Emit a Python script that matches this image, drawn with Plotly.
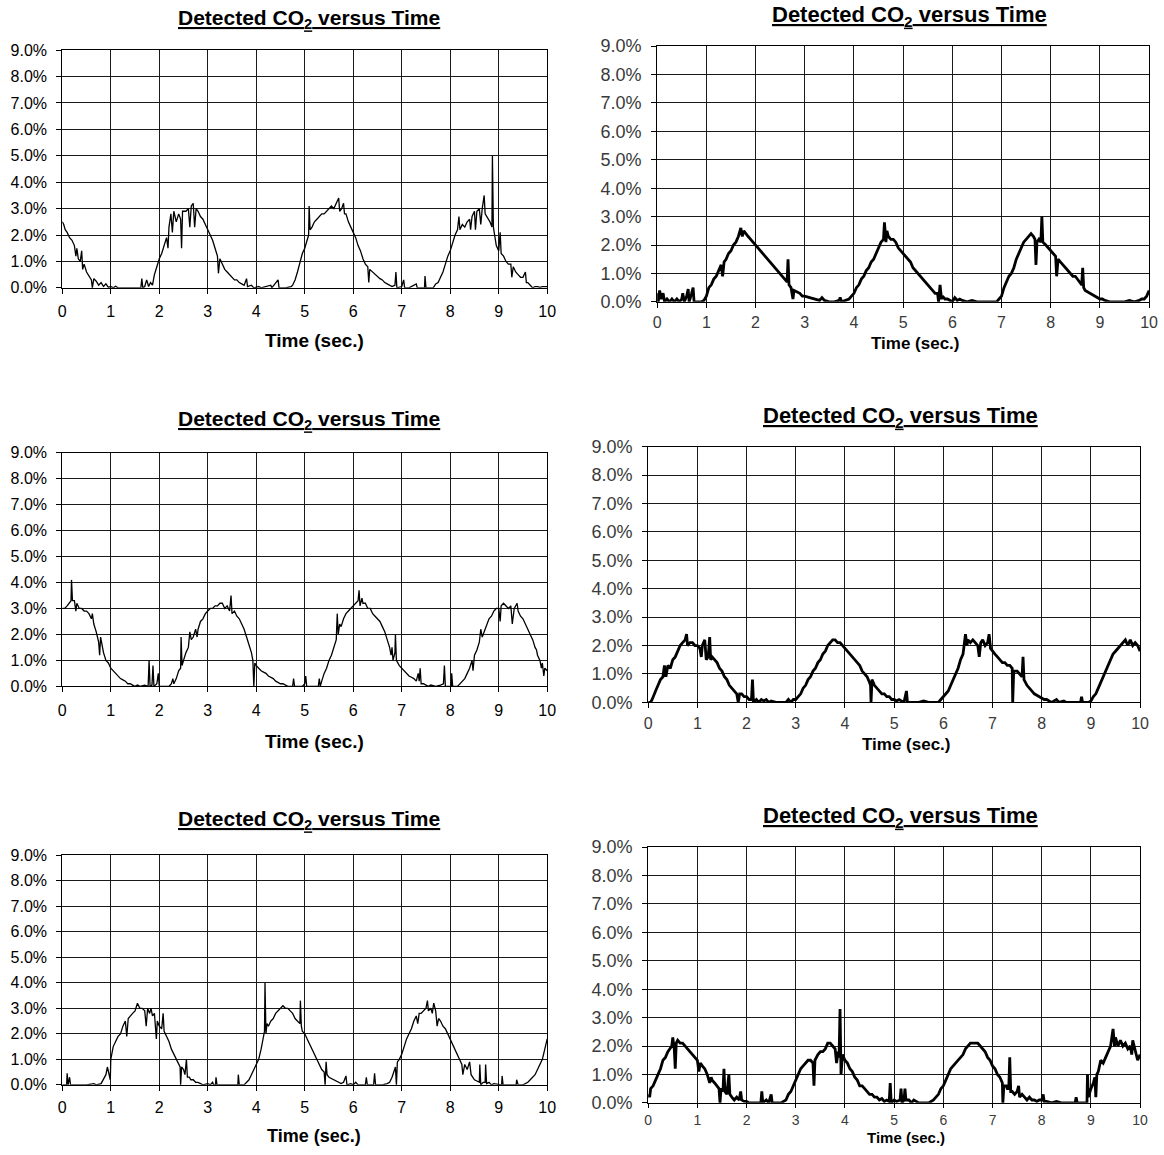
import plotly.graph_objects as go

W, H = 1164, 1155

# ---------------- data (time in s, CO2 in %) ----------------
tl = [(0.00,2.5),(0.03,2.4),(0.06,2.2),(0.1,2.1),(0.15,1.9),(0.2,1.8),(0.25,1.6),(0.28,1.2),(0.3,1.5),(0.33,1.1),(0.37,1.0),(0.4,1.4),(0.42,0.7),(0.45,0.9),(0.5,0.6),(0.55,0.45),(0.6,0.3),(0.62,0.0),(0.65,0.35),(0.7,0.25),(0.75,0.1),(0.8,0.2),(0.85,0.05),(0.9,0.15),(0.95,0.02),(1.0,0.05),(1.05,0.0),(1.1,0.06),(1.15,0.0),(1.4,0.0),(1.62,0.0),(1.64,0.35),(1.66,0.0),(1.7,0.05),(1.74,0.3),(1.78,0.05),(1.82,0.2),(1.86,0.1),(1.9,0.5),(1.95,0.8),(2.0,1.1),(2.05,1.3),(2.1,1.6),(2.15,1.9),(2.18,1.5),(2.2,2.3),(2.24,2.8),(2.27,2.1),(2.3,2.9),(2.35,2.5),(2.4,2.8),(2.44,2.6),(2.46,1.5),(2.48,2.9),(2.55,2.9),(2.6,3.0),(2.63,2.3),(2.66,3.1),(2.7,3.2),(2.73,2.3),(2.76,3.0),(2.8,2.9),(2.85,2.7),(2.9,2.6),(2.95,2.4),(3.0,2.2),(3.05,2.0),(3.1,1.8),(3.15,1.5),(3.2,1.2),(3.22,0.55),(3.25,1.1),(3.3,0.9),(3.35,0.7),(3.4,0.6),(3.45,0.5),(3.5,0.4),(3.55,0.3),(3.6,0.3),(3.65,0.2),(3.7,0.15),(3.75,0.1),(3.8,0.35),(3.82,0.05),(3.9,0.1),(3.95,0.0),(4.05,0.05),(4.1,0.0),(4.3,0.1),(4.32,0.0),(4.45,0.3),(4.47,0.0),(4.6,0.0),(4.72,0.05),(4.75,0.1),(4.8,0.3),(4.85,0.6),(4.9,1.0),(4.95,1.3),(5.0,1.5),(5.05,1.8),(5.08,2.0),(5.09,3.1),(5.11,2.2),(5.15,2.3),(5.2,2.5),(5.25,2.6),(5.3,2.7),(5.35,2.8),(5.4,2.8),(5.45,2.9),(5.5,3.0),(5.55,3.1),(5.6,3.0),(5.65,3.2),(5.7,3.4),(5.72,2.9),(5.76,3.0),(5.8,3.2),(5.82,2.8),(5.85,2.8),(5.9,2.5),(5.95,2.3),(6.0,2.1),(6.05,1.9),(6.1,1.6),(6.15,1.4),(6.2,1.1),(6.25,0.9),(6.3,0.8),(6.32,0.2),(6.34,0.7),(6.4,0.6),(6.45,0.5),(6.5,0.4),(6.55,0.35),(6.6,0.3),(6.65,0.2),(6.7,0.15),(6.75,0.1),(6.8,0.05),(6.86,0.1),(6.88,0.6),(6.9,0.0),(7.0,0.05),(7.04,0.3),(7.06,0.0),(7.15,0.0),(7.3,0.15),(7.32,0.0),(7.47,0.0),(7.48,0.45),(7.5,0.0),(7.65,0.0),(7.7,0.15),(7.75,0.2),(7.8,0.4),(7.85,0.6),(7.9,0.9),(7.95,1.2),(8.0,1.4),(8.05,1.7),(8.1,2.0),(8.15,2.2),(8.18,2.7),(8.2,2.2),(8.25,2.4),(8.3,2.3),(8.35,2.5),(8.4,2.6),(8.42,2.2),(8.45,2.7),(8.5,2.9),(8.52,2.2),(8.55,2.9),(8.6,3.0),(8.63,2.4),(8.66,3.0),(8.7,3.5),(8.72,2.8),(8.78,2.6),(8.82,2.5),(8.86,2.3),(8.87,5.0),(8.89,2.3),(8.92,2.0),(8.95,1.6),(9.0,1.4),(9.03,2.1),(9.05,1.3),(9.1,1.2),(9.15,1.0),(9.2,0.9),(9.25,0.9),(9.27,0.4),(9.3,0.8),(9.35,0.6),(9.4,0.5),(9.45,0.4),(9.5,0.4),(9.55,0.6),(9.57,0.2),(9.6,0.2),(9.65,0.1),(9.7,0.0),(9.75,0.05),(9.8,0.05),(9.85,0.02),(9.9,0.05),(10.0,0.05)]

tr = [(0.0,0.3),(0.02,0.0),(0.05,0.4),(0.08,0.1),(0.12,0.3),(0.15,0.0),(0.2,0.1),(0.25,0.0),(0.3,0.1),(0.35,0.0),(0.4,0.1),(0.45,0.0),(0.5,0.1),(0.52,0.3),(0.55,0.0),(0.6,0.2),(0.63,0.45),(0.65,0.0),(0.7,0.3),(0.73,0.5),(0.75,0.0),(0.8,0.0),(0.9,0.0),(0.95,0.05),(1.0,0.2),(1.05,0.5),(1.1,0.6),(1.15,0.8),(1.2,0.9),(1.25,1.1),(1.3,1.3),(1.33,0.9),(1.36,1.4),(1.4,1.5),(1.45,1.7),(1.5,1.8),(1.55,2.0),(1.6,2.1),(1.65,2.3),(1.7,2.6),(1.73,2.3),(1.76,2.5),(1.8,2.4),(1.85,2.3),(1.9,2.2),(1.95,2.1),(2.0,2.0),(2.05,1.9),(2.1,1.8),(2.15,1.7),(2.2,1.6),(2.25,1.5),(2.3,1.4),(2.35,1.3),(2.4,1.2),(2.45,1.1),(2.5,1.0),(2.55,0.9),(2.6,0.8),(2.64,0.7),(2.66,1.5),(2.68,0.6),(2.72,0.5),(2.76,0.1),(2.78,0.4),(2.85,0.35),(2.9,0.3),(2.95,0.2),(3.0,0.2),(3.1,0.15),(3.2,0.1),(3.3,0.05),(3.35,0.15),(3.4,0.05),(3.5,0.0),(3.6,0.0),(3.7,0.05),(3.72,0.15),(3.75,0.0),(3.85,0.05),(3.9,0.1),(3.95,0.2),(4.0,0.3),(4.05,0.5),(4.1,0.6),(4.15,0.8),(4.2,0.9),(4.25,1.1),(4.3,1.2),(4.35,1.4),(4.4,1.5),(4.45,1.7),(4.5,1.9),(4.55,2.1),(4.6,2.2),(4.62,2.8),(4.65,2.1),(4.67,2.5),(4.7,2.3),(4.75,2.2),(4.8,2.2),(4.85,2.1),(4.9,1.9),(4.95,1.8),(5.0,1.7),(5.05,1.6),(5.1,1.5),(5.15,1.4),(5.2,1.2),(5.25,1.1),(5.3,1.0),(5.35,0.9),(5.4,0.8),(5.45,0.7),(5.5,0.6),(5.55,0.5),(5.6,0.4),(5.65,0.3),(5.7,0.3),(5.72,0.0),(5.75,0.6),(5.78,0.1),(5.8,0.2),(5.85,0.1),(5.9,0.1),(5.95,0.05),(6.0,0.0),(6.05,0.15),(6.1,0.05),(6.15,0.1),(6.2,0.05),(6.3,0.0),(6.4,0.05),(6.5,0.0),(6.6,0.0),(6.7,0.0),(6.8,0.0),(6.9,0.0),(6.95,0.1),(7.0,0.2),(7.05,0.5),(7.1,0.7),(7.15,0.9),(7.2,1.0),(7.25,1.2),(7.3,1.5),(7.35,1.7),(7.4,1.9),(7.45,2.1),(7.5,2.2),(7.55,2.3),(7.6,2.4),(7.65,2.3),(7.68,2.2),(7.7,1.3),(7.72,2.1),(7.76,2.2),(7.8,2.1),(7.82,3.0),(7.84,2.1),(7.9,2.0),(7.95,1.9),(8.0,1.8),(8.05,1.7),(8.1,1.6),(8.12,0.9),(8.15,1.5),(8.2,1.4),(8.25,1.3),(8.3,1.2),(8.35,1.1),(8.4,1.0),(8.45,0.9),(8.5,0.9),(8.55,0.8),(8.6,0.7),(8.63,0.6),(8.65,1.2),(8.67,0.5),(8.7,0.4),(8.75,0.35),(8.8,0.3),(8.85,0.25),(8.9,0.2),(8.95,0.15),(9.0,0.1),(9.05,0.1),(9.1,0.05),(9.2,0.0),(9.3,0.0),(9.4,0.0),(9.5,0.0),(9.6,0.05),(9.7,0.0),(9.8,0.05),(9.85,0.1),(9.9,0.1),(9.95,0.2),(10.0,0.4)]

ml = [(0.0,3.0),(0.05,3.0),(0.1,3.1),(0.15,3.2),(0.18,3.3),(0.19,4.1),(0.21,3.3),(0.25,3.3),(0.28,2.9),(0.3,3.2),(0.35,3.0),(0.4,3.0),(0.45,2.9),(0.5,2.9),(0.55,2.8),(0.6,2.6),(0.62,2.8),(0.65,2.4),(0.7,2.1),(0.75,1.7),(0.77,1.2),(0.79,1.9),(0.82,1.5),(0.85,1.3),(0.9,1.0),(0.95,0.9),(1.0,0.7),(1.05,0.6),(1.1,0.5),(1.15,0.4),(1.2,0.3),(1.25,0.25),(1.3,0.2),(1.35,0.1),(1.4,0.1),(1.45,0.05),(1.5,0.0),(1.55,0.05),(1.6,0.0),(1.7,0.05),(1.77,0.0),(1.79,1.0),(1.81,0.0),(1.85,0.05),(1.87,0.8),(1.89,0.0),(1.95,0.1),(1.98,0.5),(2.0,0.0),(2.1,0.0),(2.2,0.0),(2.25,0.1),(2.28,0.3),(2.3,0.1),(2.35,0.3),(2.4,0.6),(2.44,0.7),(2.45,1.9),(2.47,0.8),(2.5,1.0),(2.55,1.3),(2.6,1.5),(2.63,2.1),(2.66,1.8),(2.7,1.9),(2.75,2.2),(2.78,1.9),(2.8,2.2),(2.85,2.5),(2.9,2.6),(2.95,2.8),(3.0,2.9),(3.05,3.0),(3.1,3.0),(3.15,3.1),(3.2,3.1),(3.25,3.2),(3.3,3.2),(3.35,3.0),(3.4,3.1),(3.45,2.9),(3.48,3.5),(3.5,2.8),(3.55,2.9),(3.6,2.7),(3.65,2.6),(3.7,2.4),(3.75,2.2),(3.8,1.9),(3.85,1.6),(3.9,1.3),(3.93,1.0),(3.95,0.0),(3.97,0.9),(4.0,0.8),(4.05,0.7),(4.1,0.6),(4.15,0.55),(4.2,0.5),(4.25,0.4),(4.3,0.35),(4.35,0.3),(4.4,0.2),(4.45,0.15),(4.5,0.1),(4.55,0.1),(4.6,0.05),(4.65,0.0),(4.75,0.0),(4.77,0.3),(4.79,0.0),(4.95,0.0),(5.0,0.1),(5.02,0.4),(5.04,0.0),(5.2,0.0),(5.28,0.0),(5.3,0.3),(5.32,0.0),(5.35,0.2),(5.4,0.5),(5.45,0.7),(5.5,1.0),(5.55,1.2),(5.6,1.5),(5.65,1.8),(5.67,2.8),(5.69,2.0),(5.72,2.4),(5.75,2.3),(5.8,2.6),(5.85,2.8),(5.9,2.9),(5.95,3.0),(6.0,3.1),(6.05,3.2),(6.1,3.3),(6.12,3.7),(6.14,3.1),(6.18,3.4),(6.2,3.2),(6.25,3.2),(6.3,3.0),(6.35,3.0),(6.4,2.8),(6.45,2.7),(6.5,2.6),(6.55,2.5),(6.6,2.3),(6.65,2.1),(6.7,1.8),(6.75,1.5),(6.78,1.2),(6.8,1.5),(6.82,1.0),(6.86,1.3),(6.87,2.0),(6.89,1.0),(6.95,0.8),(7.0,0.7),(7.05,0.6),(7.1,0.5),(7.15,0.4),(7.2,0.35),(7.25,0.3),(7.3,0.2),(7.34,0.5),(7.36,0.2),(7.38,0.7),(7.4,0.1),(7.45,0.1),(7.5,0.05),(7.55,0.0),(7.6,0.05),(7.7,0.0),(7.8,0.05),(7.86,0.1),(7.88,0.8),(7.9,0.0),(8.0,0.0),(8.02,0.0),(8.03,0.5),(8.05,0.0),(8.15,0.0),(8.2,0.1),(8.25,0.2),(8.3,0.3),(8.35,0.5),(8.4,0.7),(8.45,1.0),(8.47,0.6),(8.5,1.2),(8.55,1.4),(8.6,1.7),(8.63,2.2),(8.66,1.9),(8.7,2.1),(8.75,2.3),(8.8,2.6),(8.85,2.7),(8.9,2.9),(8.95,3.0),(9.0,3.0),(9.03,2.5),(9.05,3.1),(9.1,3.2),(9.15,3.1),(9.2,3.0),(9.25,3.1),(9.28,2.4),(9.32,3.0),(9.38,3.2),(9.4,2.9),(9.45,2.7),(9.5,2.6),(9.55,2.4),(9.6,2.2),(9.65,2.0),(9.7,1.8),(9.75,1.5),(9.78,1.4),(9.8,1.2),(9.85,1.0),(9.88,0.7),(9.9,0.9),(9.93,0.4),(9.95,0.7),(10.0,0.6)]

mr = [(0.0,0.0),(0.05,0.0),(0.08,0.1),(0.1,0.2),(0.15,0.4),(0.2,0.6),(0.25,0.8),(0.3,0.9),(0.33,1.3),(0.36,0.9),(0.4,1.3),(0.45,1.2),(0.5,1.5),(0.55,1.6),(0.6,1.8),(0.65,2.0),(0.7,2.1),(0.75,2.2),(0.78,2.4),(0.8,2.0),(0.85,2.1),(0.9,2.1),(0.95,2.0),(1.0,2.0),(1.05,1.9),(1.08,1.6),(1.1,2.0),(1.15,2.2),(1.18,1.5),(1.22,1.6),(1.25,2.3),(1.27,1.5),(1.3,1.6),(1.35,1.5),(1.4,1.4),(1.45,1.2),(1.5,1.1),(1.55,0.9),(1.6,0.8),(1.65,0.6),(1.7,0.5),(1.75,0.4),(1.8,0.3),(1.83,0.0),(1.86,0.3),(1.9,0.3),(1.95,0.2),(2.0,0.2),(2.05,0.1),(2.1,0.1),(2.12,0.8),(2.14,0.0),(2.2,0.1),(2.25,0.0),(2.3,0.1),(2.35,0.05),(2.4,0.1),(2.45,0.0),(2.5,0.05),(2.6,0.0),(2.7,0.0),(2.8,0.0),(2.85,0.1),(2.9,0.0),(2.95,0.1),(3.0,0.1),(3.05,0.2),(3.1,0.3),(3.15,0.5),(3.2,0.6),(3.25,0.8),(3.3,0.9),(3.35,1.1),(3.4,1.2),(3.45,1.4),(3.5,1.5),(3.55,1.7),(3.6,1.8),(3.65,2.0),(3.7,2.1),(3.75,2.2),(3.8,2.2),(3.85,2.1),(3.9,2.1),(3.95,2.0),(4.0,1.9),(4.05,1.8),(4.1,1.7),(4.15,1.6),(4.2,1.5),(4.25,1.4),(4.3,1.3),(4.35,1.1),(4.4,1.0),(4.45,0.9),(4.5,0.7),(4.52,0.6),(4.53,0.0),(4.55,0.8),(4.6,0.6),(4.65,0.5),(4.7,0.4),(4.75,0.3),(4.8,0.3),(4.85,0.2),(4.9,0.2),(4.95,0.1),(5.0,0.1),(5.05,0.05),(5.1,0.1),(5.15,0.05),(5.2,0.0),(5.25,0.4),(5.27,0.0),(5.35,0.0),(5.5,0.0),(5.6,0.05),(5.7,0.0),(5.8,0.0),(5.9,0.0),(5.95,0.1),(6.0,0.2),(6.05,0.3),(6.1,0.4),(6.15,0.6),(6.2,0.8),(6.25,1.0),(6.3,1.2),(6.35,1.5),(6.4,1.7),(6.45,2.4),(6.48,2.0),(6.5,2.2),(6.55,2.1),(6.6,2.2),(6.65,2.1),(6.7,2.0),(6.73,1.6),(6.76,2.1),(6.8,2.2),(6.85,2.0),(6.9,2.1),(6.93,2.4),(6.96,1.9),(7.0,1.8),(7.05,1.7),(7.1,1.6),(7.15,1.5),(7.2,1.4),(7.25,1.4),(7.3,1.3),(7.35,1.3),(7.4,1.2),(7.41,0.0),(7.43,1.1),(7.5,1.1),(7.55,1.0),(7.6,0.9),(7.62,1.6),(7.64,0.8),(7.7,0.6),(7.75,0.5),(7.8,0.4),(7.85,0.3),(7.9,0.25),(7.95,0.2),(8.0,0.15),(8.05,0.1),(8.1,0.1),(8.15,0.05),(8.2,0.0),(8.3,0.1),(8.35,0.0),(8.45,0.05),(8.5,0.0),(8.6,0.0),(8.7,0.0),(8.79,0.0),(8.81,0.2),(8.83,0.0),(8.95,0.0),(9.0,0.05),(9.05,0.2),(9.1,0.3),(9.15,0.5),(9.2,0.7),(9.25,0.9),(9.3,1.1),(9.35,1.3),(9.4,1.5),(9.45,1.7),(9.5,1.8),(9.55,1.9),(9.6,2.0),(9.65,2.1),(9.7,2.2),(9.75,2.0),(9.8,2.2),(9.85,2.0),(9.9,2.1),(9.95,2.0),(10.0,1.8)]

bl = [(0.0,0.0),(0.05,0.0),(0.09,0.0),(0.1,0.45),(0.12,0.0),(0.15,0.3),(0.17,0.0),(0.3,0.0),(0.5,0.0),(0.65,0.05),(0.7,0.0),(0.8,0.05),(0.85,0.2),(0.9,0.4),(0.93,0.7),(0.96,0.5),(0.99,0.2),(1.0,1.0),(1.03,1.4),(1.05,1.5),(1.1,1.7),(1.15,1.9),(1.2,2.0),(1.25,2.3),(1.3,2.5),(1.33,1.9),(1.36,2.6),(1.4,2.7),(1.45,2.8),(1.5,2.9),(1.55,3.2),(1.6,3.0),(1.65,3.0),(1.7,2.9),(1.73,2.3),(1.76,3.0),(1.8,2.8),(1.83,3.0),(1.86,2.7),(1.9,2.8),(1.94,1.8),(1.96,2.5),(2.0,2.3),(2.05,2.2),(2.08,2.8),(2.1,2.1),(2.15,1.9),(2.2,1.7),(2.25,1.4),(2.3,1.2),(2.35,1.0),(2.4,0.8),(2.43,0.7),(2.44,0.0),(2.46,0.7),(2.5,0.6),(2.53,0.4),(2.56,1.0),(2.58,0.3),(2.62,0.3),(2.65,0.2),(2.7,0.2),(2.75,0.1),(2.8,0.1),(2.85,0.05),(2.9,0.0),(3.0,0.05),(3.05,0.0),(3.1,0.1),(3.12,0.0),(3.16,0.0),(3.17,0.3),(3.19,0.0),(3.4,0.0),(3.62,0.0),(3.63,0.4),(3.65,0.0),(3.75,0.0),(3.8,0.1),(3.85,0.2),(3.9,0.4),(3.95,0.6),(4.0,0.8),(4.05,1.0),(4.1,1.4),(4.15,1.9),(4.17,2.1),(4.18,4.0),(4.2,2.0),(4.22,2.4),(4.25,2.3),(4.3,2.5),(4.35,2.6),(4.4,2.8),(4.45,2.9),(4.5,3.0),(4.55,3.1),(4.6,3.0),(4.65,3.0),(4.7,2.9),(4.75,2.8),(4.8,2.6),(4.85,2.5),(4.9,2.4),(4.91,3.3),(4.93,2.3),(4.95,2.1),(5.0,2.0),(5.05,1.8),(5.1,1.6),(5.15,1.4),(5.2,1.2),(5.25,1.0),(5.3,0.8),(5.35,0.6),(5.4,0.5),(5.42,0.0),(5.44,0.9),(5.46,0.4),(5.5,0.3),(5.55,0.25),(5.6,0.2),(5.65,0.15),(5.7,0.1),(5.75,0.05),(5.8,0.1),(5.85,0.35),(5.87,0.0),(5.95,0.05),(6.0,0.0),(6.05,0.1),(6.1,0.0),(6.25,0.0),(6.27,0.3),(6.29,0.0),(6.42,0.0),(6.44,0.45),(6.46,0.0),(6.6,0.0),(6.7,0.05),(6.75,0.1),(6.8,0.3),(6.85,0.6),(6.87,0.7),(6.89,0.0),(6.91,0.9),(6.95,1.0),(7.0,1.2),(7.05,1.5),(7.1,1.8),(7.15,2.0),(7.2,2.2),(7.25,2.5),(7.3,2.7),(7.33,2.4),(7.36,2.8),(7.4,2.8),(7.45,2.9),(7.5,3.0),(7.53,3.3),(7.55,2.9),(7.6,3.0),(7.63,2.8),(7.66,3.2),(7.7,2.9),(7.73,2.3),(7.76,2.6),(7.8,2.5),(7.85,2.3),(7.9,2.2),(7.95,2.0),(8.0,1.8),(8.05,1.6),(8.1,1.4),(8.15,1.2),(8.2,1.0),(8.24,0.8),(8.26,0.4),(8.3,0.8),(8.35,0.6),(8.4,0.9),(8.43,0.4),(8.47,0.3),(8.5,0.2),(8.55,0.15),(8.6,0.1),(8.61,0.8),(8.63,0.0),(8.68,0.1),(8.72,0.1),(8.73,0.8),(8.75,0.05),(8.8,0.1),(8.85,0.0),(8.9,0.05),(9.0,0.0),(9.06,0.0),(9.07,0.35),(9.09,0.0),(9.3,0.0),(9.36,0.0),(9.37,0.2),(9.4,0.0),(9.5,0.0),(9.55,0.05),(9.6,0.1),(9.65,0.2),(9.7,0.3),(9.75,0.4),(9.8,0.6),(9.85,0.8),(9.9,1.0),(9.95,1.4),(10.0,1.8)]

br = [(0.0,0.3),(0.03,0.2),(0.05,0.5),(0.1,0.6),(0.15,0.8),(0.2,1.0),(0.25,1.2),(0.3,1.5),(0.35,1.6),(0.4,1.8),(0.45,1.9),(0.48,2.0),(0.5,2.3),(0.53,1.9),(0.55,1.2),(0.57,2.1),(0.6,2.2),(0.65,2.1),(0.7,2.1),(0.75,2.0),(0.8,1.9),(0.85,1.8),(0.9,1.7),(0.95,1.6),(1.0,1.5),(1.03,1.1),(1.06,1.4),(1.1,1.3),(1.15,1.2),(1.2,1.0),(1.25,0.7),(1.28,0.9),(1.3,0.8),(1.35,0.7),(1.4,0.6),(1.44,0.5),(1.46,0.0),(1.48,0.5),(1.52,0.4),(1.54,1.2),(1.56,0.4),(1.6,0.3),(1.64,1.0),(1.66,0.3),(1.7,0.2),(1.75,0.1),(1.8,0.2),(1.85,0.1),(1.88,0.4),(1.9,0.1),(1.95,0.05),(2.0,0.05),(2.05,0.0),(2.1,0.0),(2.2,0.0),(2.29,0.0),(2.31,0.4),(2.33,0.0),(2.4,0.1),(2.45,0.0),(2.5,0.3),(2.52,0.0),(2.6,0.0),(2.7,0.0),(2.8,0.1),(2.85,0.3),(2.9,0.4),(2.95,0.6),(3.0,0.8),(3.05,1.0),(3.1,1.2),(3.15,1.3),(3.2,1.4),(3.25,1.5),(3.3,1.5),(3.35,1.4),(3.37,0.6),(3.39,1.5),(3.45,1.7),(3.5,1.8),(3.55,1.8),(3.6,1.9),(3.65,2.1),(3.7,2.1),(3.75,2.0),(3.8,1.9),(3.83,1.4),(3.86,1.8),(3.88,1.6),(3.9,3.3),(3.92,1.0),(3.95,1.7),(4.0,1.5),(4.05,1.4),(4.1,1.2),(4.15,1.1),(4.2,0.9),(4.25,0.8),(4.3,0.6),(4.35,0.6),(4.4,0.5),(4.45,0.4),(4.5,0.3),(4.55,0.3),(4.6,0.2),(4.65,0.2),(4.7,0.1),(4.75,0.15),(4.8,0.05),(4.85,0.1),(4.9,0.05),(4.92,0.7),(4.94,0.0),(5.0,0.1),(5.05,0.05),(5.12,0.1),(5.14,0.5),(5.16,0.0),(5.2,0.1),(5.22,0.5),(5.24,0.1),(5.3,0.1),(5.35,0.0),(5.4,0.1),(5.45,0.05),(5.5,0.0),(5.6,0.0),(5.7,0.0),(5.75,0.05),(5.8,0.1),(5.85,0.2),(5.9,0.3),(5.95,0.5),(6.0,0.6),(6.05,0.8),(6.1,1.0),(6.15,1.2),(6.2,1.3),(6.25,1.4),(6.3,1.5),(6.35,1.6),(6.4,1.7),(6.45,1.9),(6.5,2.0),(6.55,2.1),(6.6,2.1),(6.65,2.1),(6.7,2.1),(6.75,2.0),(6.8,1.9),(6.85,1.8),(6.9,1.6),(6.95,1.5),(7.0,1.3),(7.05,1.2),(7.1,1.0),(7.15,0.9),(7.2,0.7),(7.21,0.0),(7.23,0.6),(7.28,0.6),(7.3,0.5),(7.33,0.5),(7.35,1.6),(7.37,0.4),(7.4,0.4),(7.45,0.3),(7.5,0.4),(7.53,0.6),(7.55,0.2),(7.6,0.3),(7.65,0.2),(7.7,0.1),(7.75,0.2),(7.8,0.1),(7.85,0.1),(7.9,0.05),(7.95,0.1),(8.0,0.1),(8.03,0.3),(8.05,0.05),(8.1,0.05),(8.2,0.0),(8.3,0.05),(8.4,0.0),(8.5,0.0),(8.6,0.0),(8.68,0.0),(8.7,0.2),(8.72,0.0),(8.8,0.0),(8.9,0.0),(8.92,0.0),(8.93,1.0),(8.95,0.2),(9.0,0.5),(9.05,0.7),(9.08,0.9),(9.1,0.2),(9.12,1.0),(9.15,1.1),(9.2,1.5),(9.25,1.4),(9.3,1.6),(9.35,1.8),(9.4,2.0),(9.45,2.6),(9.48,2.0),(9.5,2.3),(9.55,2.0),(9.6,2.2),(9.65,2.0),(9.7,2.1),(9.75,1.9),(9.8,2.0),(9.83,1.7),(9.85,2.2),(9.9,1.8),(9.95,1.5),(10.0,1.7)]

x_ticks = list(range(0, 11))
y_ticks = list(range(0, 10))
y_tick_labels = ["0.0%", "1.0%", "2.0%", "3.0%", "4.0%", "5.0%", "6.0%", "7.0%", "8.0%", "9.0%"]
title_text = "<b>Detected CO<sub>2</sub> versus Time</b>"
xaxis_title = "<b>Time (sec.)</b>"

# ---------------- layout (target pixel boxes, reference image coordinates) ----------------
# series, plot box (l, r, t, b), title centre, x-title centre, line width, right-hand style,
# x tick font, x tick len, x tick standoff, x-title font, title font
panels = [
    (tl, (62, 547, 49, 287), (309, 18), (314, 340), 1.3, False, 16, 5, 4, 19, 21),
    (tr, (657, 1149, 45, 301), (909, 15), (915, 343), 2.8, True, 16, 5, 1, 17, 22),
    (ml, (62, 547, 452, 686), (309, 419), (314, 741), 1.3, False, 16, 5, 4, 19, 21),
    (mr, (648, 1140, 446, 702), (900, 416), (906, 744), 2.8, True, 16, 5, 1, 17, 22),
    (bl, (62, 547, 855, 1085), (309, 820), (314, 1136), 1.3, False, 16, 5, 3, 18, 21),
    (br, (648, 1140, 847, 1103), (900, 817), (906, 1137.5), 2.8, True, 14, 4, 0, 15, 22),
]

# calibration of the rendered picture relative to the layout pixels
SX, OX = 0.989, 3.7
SY, OY = 0.9839, 8.8


def fx(px):
    return ((px - OX) / SX) / W


def fy(py):
    return 1 - ((py - OY) / SY) / H


FONT = "Arial, Liberation Sans, Helvetica, sans-serif"
fig = go.Figure()
annotations = []
for i, (series, box, tpos, xtpos, lw, rs, xtf, xtl, xts, xttf, ttf) in enumerate(panels, start=1):
    l, r, t, b = box
    xs = [p[0] for p in series]
    ys = [p[1] for p in series]
    xa = "x" if i == 1 else f"x{i}"
    ya = "y" if i == 1 else f"y{i}"
    fig.add_trace(go.Scatter(x=xs, y=ys, mode="lines", xaxis=xa, yaxis=ya,
                             line=dict(color="black", width=lw), showlegend=False,
                             hoverinfo="skip"))
    tick_color = "#3a3a3a" if rs else "black"
    xkey = "xaxis" if i == 1 else f"xaxis{i}"
    ykey = "yaxis" if i == 1 else f"yaxis{i}"
    fig.layout[xkey] = dict(
        domain=[fx(l), min(fx(r), 1.0)], anchor=ya, range=[0, 10], tickvals=x_ticks,
        showgrid=True, gridcolor="#1a1a1a", gridwidth=1, zeroline=False,
        showline=True, linecolor="black", linewidth=1.3 if rs else 1, mirror=True,
        ticks="outside", ticklen=xtl, tickcolor="black", ticklabelstandoff=xts,
        tickfont=dict(family=FONT, size=xtf, color=tick_color), fixedrange=True)
    fig.layout[ykey] = dict(
        domain=[fy(b), fy(t)], anchor=xa, range=[0, 9], tickvals=y_ticks,
        ticktext=y_tick_labels,
        showgrid=True, gridcolor="#1a1a1a", gridwidth=1, zeroline=False,
        showline=True, linecolor="black", linewidth=1.3 if rs else 1, mirror=True,
        ticks="outside", ticklen=5, tickcolor="black", ticklabelstandoff=6,
        tickfont=dict(family=FONT, size=18 if rs else 16, color=tick_color), fixedrange=True)
    annotations.append(dict(text=title_text, x=fx(tpos[0]), y=fy(tpos[1]), xref="paper", yref="paper",
                            xanchor="center", yanchor="middle", showarrow=False,
                            font=dict(family=FONT, size=ttf, color="black", lineposition="under")))
    annotations.append(dict(text=xaxis_title, x=fx(xtpos[0]), y=fy(xtpos[1]), xref="paper", yref="paper",
                            xanchor="center", yanchor="middle", showarrow=False,
                            font=dict(family=FONT, size=xttf, color="black")))

fig.update_layout(width=W, height=H, margin=dict(l=0, r=0, t=0, b=0),
                  paper_bgcolor="white", plot_bgcolor="white",
                  annotations=annotations, showlegend=False)

post = """
document.documentElement.style.margin='0px';
document.body.style.margin='0px';
document.body.style.overflow='hidden';
"""

fig.write_html("out.html", config={"displayModeBar": False}, post_script=post)
